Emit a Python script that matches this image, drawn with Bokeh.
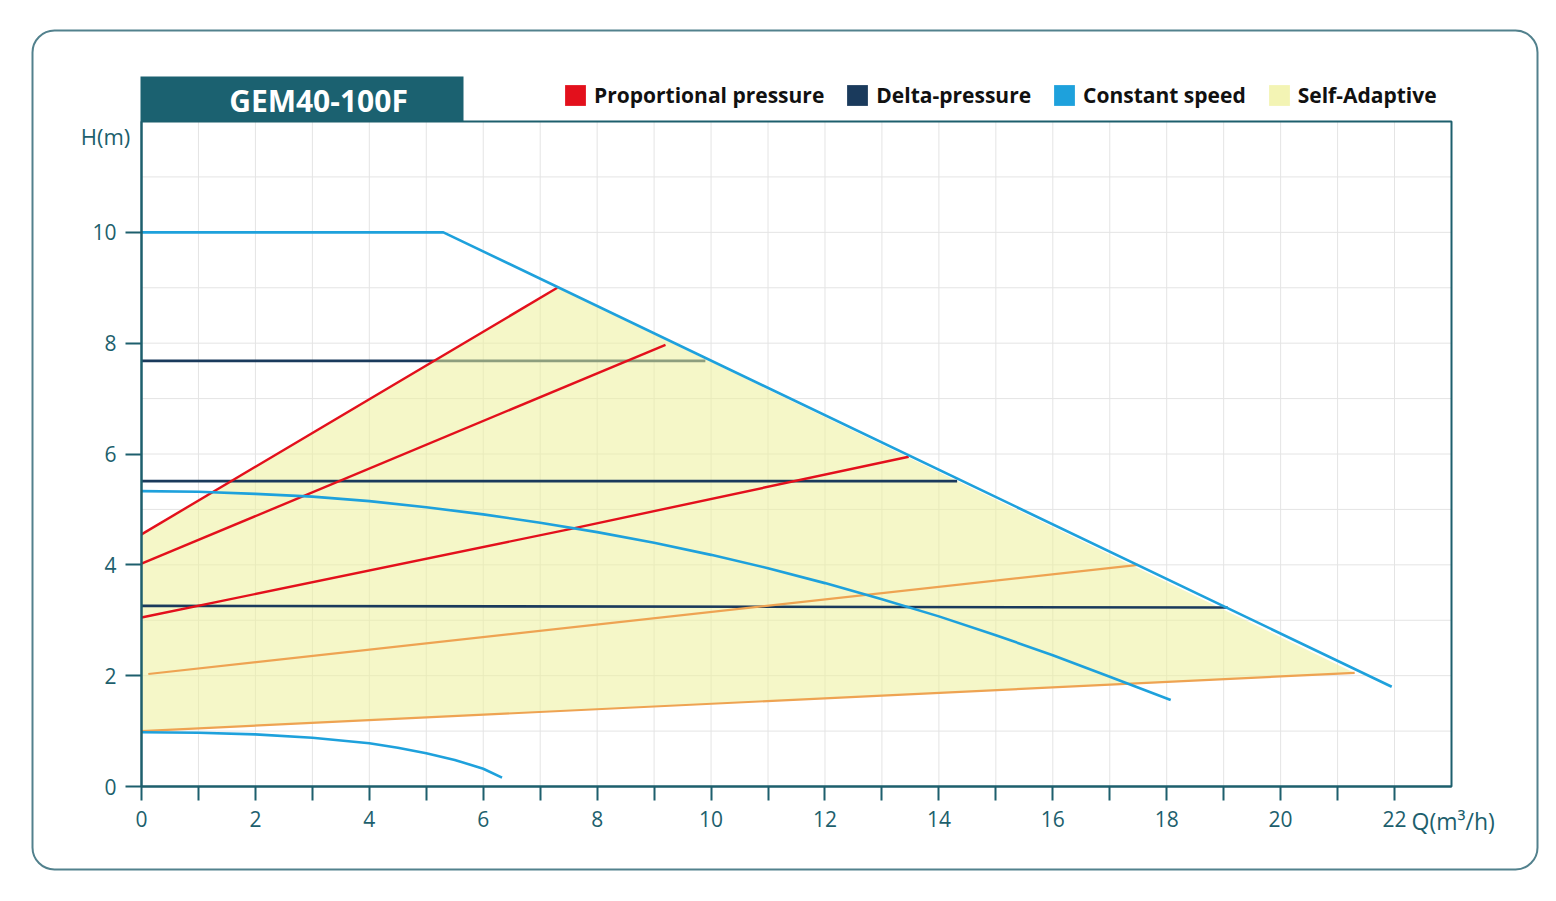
from bokeh.plotting import figure
from bokeh.models import (Range1d, FixedTicker, Label, BoxAnnotation, Legend,
                          LegendItem, LinearAxis)
from bokeh.embed import file_html
from bokeh.resources import INLINE

NAN = float("nan")

# ---------------- data (Q in m3/h, H in m) ----------------
# Constant speed curves
cs_max_q = [0.0, 5.3, 21.95]
cs_max_h = [10.0, 10.0, 1.80]
cs_mid_q = [0, 1, 2, 3, 4, 5, 6, 7, 8, 9, 10, 11, 12, 13, 14, 15, 16, 17, 18.07]
cs_mid_h = [5.33, 5.32, 5.28, 5.23, 5.15, 5.04, 4.91, 4.76, 4.59, 4.40, 4.18,
            3.94, 3.67, 3.38, 3.07, 2.73, 2.37, 1.98, 1.56]
cs_min_q = [0, 1, 2, 3, 4, 4.5, 5, 5.5, 6, 6.33]
cs_min_h = [0.98, 0.97, 0.94, 0.88, 0.78, 0.70, 0.60, 0.48, 0.32, 0.16]

# Proportional pressure lines
pp1_q = [0.0, 7.3]
pp1_h = [4.55, 9.0]
pp2_q = [0.0, 9.2]
pp2_h = [4.02, 7.97]
pp3_q = [0.0, 7.5, 13.47]
pp3_h = [3.05, 4.64, 5.95]

# Self-adaptive (orange) lines
sa1_q = [0.12, 17.5]
sa1_h = [2.03, 4.0]
sa2_q = [0.0, 21.3]
sa2_h = [1.0, 2.05]

# Delta-pressure lines
dp1_q = [0.0, 9.9]
dp1_h = [7.68, 7.68]
dp2_q = [0.0, 14.32]
dp2_h = [5.51, 5.51]
dp3_q = [0.0, 19.07]
dp3_h = [3.26, 3.23]

# Self-adaptive area: bounded by lowest orange line, axis, top red line, max curve
area_q = [sa2_q[0], pp1_q[0], pp1_q[1], sa2_q[1]]
area_h = [sa2_h[0], pp1_h[0], pp1_h[1], sa2_h[1]]

q_max, h_max = 23, 12
x_ticks = [0, 2, 4, 6, 8, 10, 12, 14, 16, 18, 20, 22]
x_minor = [1, 3, 5, 7, 9, 11, 13, 15, 17, 19, 21]
y_ticks = [0, 2, 4, 6, 8, 10]
x_grid = list(range(1, q_max))
y_grid = list(range(1, h_max))

title_text = "GEM40-100F"
legend_labels = ["Proportional pressure", "Delta-pressure", "Constant speed", "Self-Adaptive"]

# ---------------- styling ----------------
TEAL = "#1d5f6d"
BLUE = "#1ea1dc"
RED = "#e3101c"
NAVY = "#1a3a5c"
ORANGE = "#eea352"
YELLOW = "#f3f4b4"
FONT = "Open Sans"

W, H = 1556, 901
# pixel position of the plotting area inside the canvas
FL, FR, FT, FB = 141, 1451, 121, 786
SX = (FR - FL) / q_max      # px per m3/h
SY = (FB - FT) / h_max      # px per m

def dx(px):
    return (px - FL) / SX

def dy(py):
    return (FB - py) / SY

p = figure(width=W, height=H, output_backend="svg", toolbar_location=None,
           title=None, x_axis_location=None, y_axis_location=None,
           x_range=Range1d(dx(0), dx(W)), y_range=Range1d(dy(H), dy(0)),
           min_border=0, min_border_left=0, min_border_right=0,
           min_border_top=0, min_border_bottom=0)
p.background_fill_color = "white"
p.border_fill_color = "white"
p.outline_line_color = None
p.xgrid.visible = False
p.ygrid.visible = False

# grid lines restricted to the plotting area
p.segment(x0=x_grid, x1=x_grid, y0=[0] * len(x_grid), y1=[h_max] * len(x_grid),
          line_color="#e4e4e4", line_width=1)
p.segment(x0=[0] * len(y_grid), x1=[q_max] * len(y_grid), y0=y_grid, y1=y_grid,
          line_color="#e4e4e4", line_width=1)

# axes fixed at the data origin
xaxis = LinearAxis(fixed_location=0, bounds=(0, q_max),
                   ticker=FixedTicker(ticks=x_ticks, minor_ticks=x_minor))
yaxis = LinearAxis(fixed_location=0, bounds=(0, h_max),
                   ticker=FixedTicker(ticks=y_ticks))
for ax in (xaxis, yaxis):
    ax.axis_line_color = TEAL
    ax.axis_line_width = 2
    ax.major_tick_line_color = TEAL
    ax.major_tick_line_width = 2
    ax.major_tick_in = 0
    ax.minor_tick_in = 0
    ax.major_label_text_font = FONT
    ax.major_label_text_font_size = "21px"
    ax.major_label_text_color = TEAL
xaxis.major_tick_out = 14
xaxis.minor_tick_out = 14
xaxis.minor_tick_line_color = TEAL
xaxis.minor_tick_line_width = 2
xaxis.major_label_standoff = 10
yaxis.major_tick_out = 16
yaxis.minor_tick_line_color = None
yaxis.major_label_standoff = 9
p.add_layout(xaxis, "below")
p.add_layout(yaxis, "left")

# top / right border of the plotting area
p.add_layout(BoxAnnotation(left=0, right=q_max, bottom=0, top=h_max, fill_alpha=0,
                           line_color=TEAL, line_alpha=1, line_width=2))

# lower delta-pressure line sits under the translucent area
p.line(dp1_q, dp1_h, line_color=NAVY, line_width=2.6)

# self-adaptive area
p.patch(area_q, area_h, fill_color="#ecf09a", fill_alpha=0.55, line_color=None)

# delta pressure
p.line(dp2_q, dp2_h, line_color=NAVY, line_width=2.6)
p.line(dp3_q, dp3_h, line_color=NAVY, line_width=2.6)

# self-adaptive orange lines
p.line(sa1_q, sa1_h, line_color=ORANGE, line_width=2.2)
p.line(sa2_q, sa2_h, line_color=ORANGE, line_width=2.2)

# proportional pressure
p.line(pp1_q, pp1_h, line_color=RED, line_width=2.4)
p.line(pp2_q, pp2_h, line_color=RED, line_width=2.4)
p.line(pp3_q, pp3_h, line_color=RED, line_width=2.4)

# constant speed
p.line(cs_max_q, cs_max_h, line_color=BLUE, line_width=2.6)
p.line(cs_mid_q, cs_mid_h, line_color=BLUE, line_width=2.6)
p.line(cs_min_q, cs_min_h, line_color=BLUE, line_width=2.6)

# legend (square swatches; the swatch renderers hold no visible data)
swatch_colors = [RED, NAVY, BLUE, YELLOW]
items = []
for lab, col in zip(legend_labels, swatch_colors):
    r = p.quad(left=[NAN], right=[NAN], top=[NAN], bottom=[NAN],
               fill_color=col, fill_alpha=1, line_color=None)
    items.append(LegendItem(label=lab, renderers=[r]))
legend = Legend(items=items, orientation="horizontal", location=(562, H - 108.6),
                glyph_width=26, glyph_height=26, label_standoff=6, spacing=20,
                padding=0, margin=0, background_fill_alpha=0, border_line_alpha=0,
                label_text_font=FONT, label_text_font_size="21px",
                label_text_font_style="bold", label_text_color="#111111",
                label_height=20)
p.add_layout(legend)

# outer rounded frame
p.add_layout(BoxAnnotation(left=dx(32), right=dx(1537), top=dy(30), bottom=dy(869),
                           fill_alpha=0, line_color="#52818d", line_alpha=1,
                           line_width=2, border_radius=22))
# title box
p.add_layout(BoxAnnotation(left=dx(140), right=dx(463), top=dy(76), bottom=dy(121),
                           fill_color="#1b6170", fill_alpha=1, line_alpha=0))
p.add_layout(Label(x=dx(318), y=dy(100), text=title_text, text_align="center",
                   text_baseline="middle", text_color="white", text_font=FONT,
                   text_font_size="30px", text_font_style="bold"))

# axis titles
p.add_layout(Label(x=dx(105), y=dy(135), text="H(m)", text_align="center",
                   text_baseline="middle", text_color=TEAL, text_font=FONT,
                   text_font_size="22px"))
p.add_layout(Label(x=dx(1411), y=dy(820), text="Q(m³/h)", text_align="left",
                   text_baseline="middle", text_color=TEAL, text_font=FONT,
                   text_font_size="23px"))

open("out.html", "w").write(file_html(p, INLINE))
